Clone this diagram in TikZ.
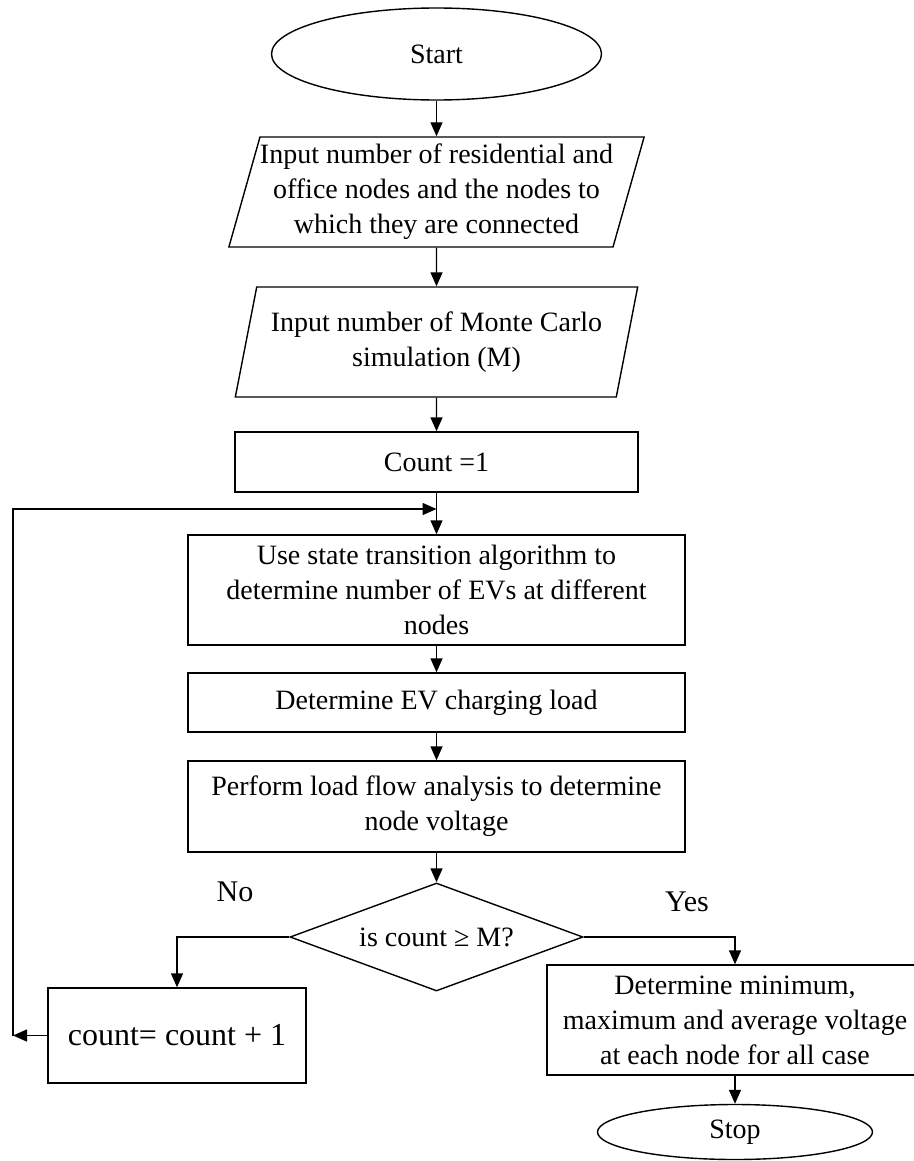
\documentclass[tikz,border=0pt]{standalone}
\usepackage{fontspec}
\setmainfont{Liberation Serif}
\usetikzlibrary{arrows.meta,shapes.geometric}

\begin{document}
\begin{tikzpicture}[x=0.5pt,y=-0.5pt,>={Triangle[length=7pt,width=6pt]},line width=0.7pt,
      every node/.style={font=\fontsize{14}{17.5}\selectfont,align=center,inner sep=0pt},
      term/.style={draw,ellipse},
      io/.style={draw,trapezium,trapezium left angle=72,trapezium right angle=108,trapezium stretches=true},
      proc/.style={draw,rectangle},
      decide/.style={draw,diamond,aspect=2.7}]
      \useasboundingbox (0,0) rectangle (914,1161);
      \node[term,minimum width=165pt,minimum height=46pt] (start) at (436.5,54) {Start};
      \node[io,minimum width=201.5pt,minimum height=55pt] (in1) at (436.5,192) {Input number of residential and\\office nodes and the nodes to\\which they are connected};
      \node[io,minimum width=201.5pt,minimum height=55pt] (in2) at (436.5,342) {Input number of Monte Carlo\\simulation (M)};
      \node[proc,minimum width=201.5pt,minimum height=30pt] (cnt) at (436.5,462) {Count =1};
      \coordinate (jn) at (436.5,509);
      \node[proc,minimum width=248.5pt,minimum height=55pt] (st) at (436.5,590) {Use state transition algorithm to\\determine number of EVs at different\\nodes};
      \node[proc,minimum width=248.5pt,minimum height=29.5pt] (ev) at (436.5,702.5) {Determine EV charging load};
      \node[proc,minimum width=248.5pt,minimum height=45.5pt] (lf) at (436.5,806.5) {Perform load flow analysis to determine\\node voltage};
      \node[decide,minimum width=146.5pt,minimum height=54pt] (dec) at (436.5,937) {is count ≥ M?};
      \node[proc,minimum width=129pt,minimum height=47.5pt,font=\fontsize{16}{19}\selectfont] (inc) at (177,1035.5) {count= count + 1};
      \node[proc,minimum width=188pt,minimum height=55pt] (res) at (735,1020) {Determine minimum,\\maximum and average voltage\\at each node for all case};
      \node[term,minimum width=137.5pt,minimum height=27.5pt] (stop) at (735,1132) {Stop};
      \node[font=\fontsize{15}{18}\selectfont] (no) at (235,892) {No};
      \node[font=\fontsize{15}{18}\selectfont] (yes) at (687,902) {Yes};
      \coordinate (lp) at (13,1035.5);
      \draw[->] (start) -- (in1);
      \draw[->] (in1) -- (in2);
      \draw[->] (in2) -- (cnt);
      \draw[->] (cnt) -- (st);
      \draw[->] (st) -- (ev);
      \draw[->] (ev) -- (lf);
      \draw[->] (lf) -- (dec);
      \draw[->] (dec.west) -| (inc.north);
      \draw[->] (dec.east) -| (res.north);
      \draw[->] (res) -- (stop);
      \draw[->] (inc.west) -- (lp);
      \draw[->] (lp) |- (jn);
    \end{tikzpicture}
\end{document}
